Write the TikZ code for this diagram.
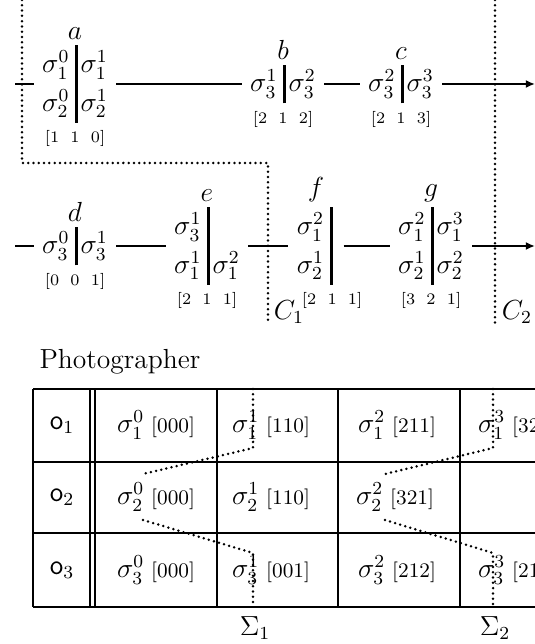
\documentclass[tikz,border=0pt]{standalone}
\usepackage{amsmath,amssymb}
\usepackage{array}
\usepackage{tikz}
\usetikzlibrary{arrows.meta,positioning}
\renewcommand{\arraystretch}{1.2}
\setlength{\arraycolsep}{2pt}
\newcommand{\starr}[1]{$\begin{array}{@{}c@{\hspace{2.5pt}\vrule width 1.3pt\hspace{1pt}}c@{}}#1\end{array}$}
\newcommand{\vecl}[3]{[#1\hspace{.7em}#2\hspace{.7em}#3]}
\newcommand{\cel}[3]{$\sigma_{#1}^{#2}$\hspace{3pt}{\small[#3]}}

\begin{document}
\begin{tikzpicture}[
  x=0.435pt,y=-0.435pt,
  state/.style={inner xsep=3.5pt,inner ysep=1pt,font=\large},
  lab/.style={font=\large,inner sep=1pt},
  vec/.style={font=\scriptsize,inner sep=2pt},
  conn/.style={line width=0.9pt},
  arr/.style={conn,-{Latex[length=4pt,width=3.5pt]}},
  cut/.style={line width=1.2pt,line cap=round,dash pattern=on 0pt off 2.3pt},
  grid/.style={line width=0.9pt},
  cell/.style={font=\large,inner sep=0pt}
]
  \useasboundingbox (0,0) rectangle (535,644);
  \clip (0,0) rectangle (535,644);

  % first run
  \node[state,label={[lab]above:$a$},label={[vec]below:\vecl110}] (a) at (75,84)
    {\starr{\sigma_1^0&\sigma_1^1\\\sigma_2^0&\sigma_2^1}};
  \node[state,label={[lab]above:$b$},label={[vec]below:\vecl212}] (b) at (283,84)
    {\starr{\sigma_3^1&\sigma_3^2}};
  \node[state,label={[lab]above:$c$},label={[vec]below:\vecl213}] (c) at (401,84)
    {\starr{\sigma_3^2&\sigma_3^3}};
  \coordinate (ain) at (15,84);
  \coordinate (cout) at (535,84);
  \draw[conn] (ain) -- (a);
  \draw[conn] (a) -- (b);
  \draw[conn] (b) -- (c);
  \draw[arr] (c) -- (cout);

  % second run
  \node[state,label={[lab]above:$d$},label={[vec]below:\vecl001}] (d) at (75,246)
    {\starr{\sigma_3^0&\sigma_3^1}};
  \node[state,label={[lab]above:$e$},label={[vec]below:\vecl211}] (e) at (207,246)
    {\starr{\sigma_3^1&\\\sigma_1^1&\sigma_1^2}};
  \node[state,label={[lab]above:$f$},label={[vec,xshift=7pt]below:\vecl211}] (f) at (316,246)
    {\starr{\sigma_1^2&\\\sigma_2^1&}};
  \node[state,label={[lab]above:$g$},label={[vec]below:\vecl321}] (g) at (431,246)
    {\starr{\sigma_1^2&\sigma_1^3\\\sigma_2^1&\sigma_2^2}};
  \coordinate (din) at (15,246);
  \coordinate (gout) at (535,246);
  \draw[conn] (din) -- (d);
  \draw[conn] (d) -- (e);
  \draw[conn] (e) -- (f);
  \draw[conn] (f) -- (g);
  \draw[arr] (g) -- (gout);

  % cuts
  \draw[cut] (22,0) -- (22,163) -- (268,163) -- (268,325);
  \draw[cut] (495,0) -- (495,325);
  \node[font=\large,inner sep=0pt] (c1) at (289,312) {$C_1$};
  \node[font=\large,inner sep=0pt] (c2) at (517,312) {$C_2$};

  % table
  \node[font=\large] (ph) at (120,362) {Photographer};
  \draw[grid] (33,389) -- (540,389);
  \draw[grid] (33,462) -- (540,462);
  \draw[grid] (33,533) -- (540,533);
  \draw[grid] (33,607) -- (540,607);
  \draw[grid] (33,389) -- (33,607);
  \draw[grid] (90,389) -- (90,607);
  \draw[grid] (95,389) -- (95,607);
  \draw[grid] (217,389) -- (217,607);
  \draw[grid] (338,389) -- (338,607);
  \draw[grid] (460,389) -- (460,607);

  \node[cell] (o1) at (62,425) {$\mathsf{o}_1$};
  \node[cell] (o2) at (62,497) {$\mathsf{o}_2$};
  \node[cell] (o3) at (62,570) {$\mathsf{o}_3$};
  \node[cell] (s10) at (156,425) {\cel{1}{0}{000}};
  \node[cell] (s11) at (271,425) {\cel{1}{1}{110}};
  \node[cell] (s12) at (397,425) {\cel{1}{2}{211}};
  \node[cell] (s13) at (517,425) {\cel{1}{3}{321}};
  \node[cell] (s20) at (156,497) {\cel{2}{0}{000}};
  \node[cell] (s21) at (271,497) {\cel{2}{1}{110}};
  \node[cell] (s22) at (395,497) {\cel{2}{2}{321}};
  \node[cell] (s30) at (156,570) {\cel{3}{0}{000}};
  \node[cell] (s31) at (271,570) {\cel{3}{1}{001}};
  \node[cell] (s32) at (397,570) {\cel{3}{2}{212}};
  \node[cell] (s33) at (517,570) {\cel{3}{3}{211}};

  \draw[cut] (253,389) -- (253,448) -- (143,474);
  \draw[cut] (143,520) -- (253,553) -- (253,607);
  \draw[cut] (493,389) -- (493,448) -- (385,474);
  \draw[cut] (385,520) -- (493,553) -- (493,607);
  \node[font=\large] (sig1) at (255,628) {$\Sigma_1$};
  \node[font=\large] (sig2) at (495,628) {$\Sigma_2$};
\end{tikzpicture}
\end{document}
